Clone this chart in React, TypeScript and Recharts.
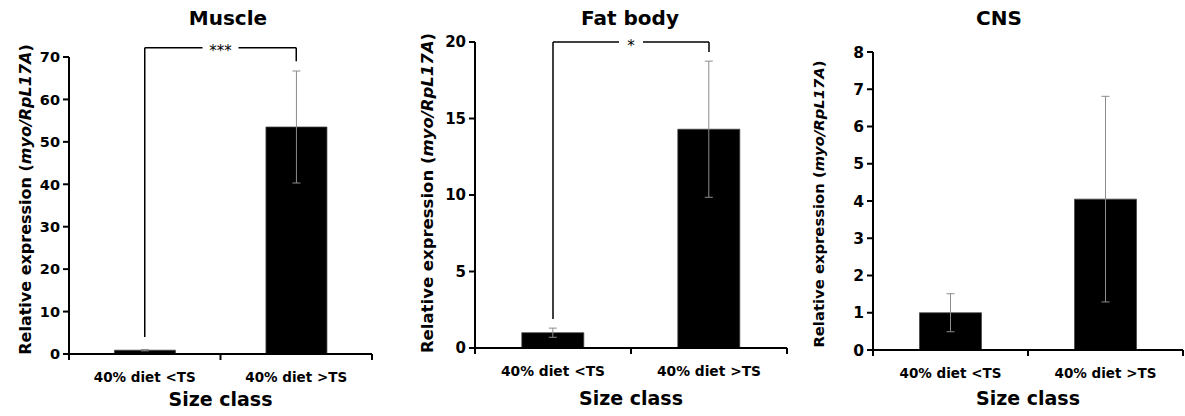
import React from 'react';
import { BarChart, Bar, XAxis, YAxis, ErrorBar, ReferenceLine } from 'recharts';

const categories = ['40% diet <TS', '40% diet >TS'];

const muscleMeans = [0.9, 53.5];
const muscleErrors = [0.15, 13.2];
const muscleTicks = [0, 10, 20, 30, 40, 50, 60, 70];

const fatBodyMeans = [1.0, 14.3];
const fatBodyErrors = [0.3, 4.45];
const fatBodyTicks = [0, 5, 10, 15, 20];

const cnsMeans = [1.0, 4.05];
const cnsErrors = [0.51, 2.76];
const cnsTicks = [0, 1, 2, 3, 4, 5, 6, 7, 8];

// significance brackets, in data units: height of the top line and of each leg's end
const muscleBracket = { text: '***', top: 72.2, leftEnd: 4, rightEnd: 69 };
const fatBodyBracket = { text: '*', top: 20, leftEnd: 1.9, rightEnd: 19.35 };

const FONT = '"DejaVu Sans", Lato, sans-serif';
const PANEL_W = 395;
const PANEL_H = 416;
const TICK_SIZE = 6;
const TICK_MARGIN = 12;

const CategoryTick = (props: any) => {
    const { x, y, payload, index, bandHalf, count, fontSize } = props;
    const axisY = y - TICK_SIZE - TICK_MARGIN;
    return (
        <g>
            <line x1={x - bandHalf} x2={x - bandHalf} y1={axisY} y2={axisY + TICK_SIZE} stroke="#000" strokeWidth={2} />
            {index === count - 1 && (
                <line x1={x + bandHalf} x2={x + bandHalf} y1={axisY} y2={axisY + TICK_SIZE} stroke="#000" strokeWidth={2} />
            )}
            <text x={x} y={y} dy="0.71em" textAnchor="middle" fill="#000" fontSize={fontSize} fontWeight={700} fontFamily={FONT}>
                {payload.value}
            </text>
        </g>
    );
};

const ValueTick = (props: any) => {
    const { x, y, payload, size } = props;
    return (
        <text x={x} y={y} dy="0.36em" textAnchor="end" fill="#000" fontSize={size} fontWeight={700} fontFamily={FONT}>
            {payload.value}
        </text>
    );
};

const YLabel = (props: any) => {
    const { viewBox, dx, shift, size } = props;
    const cx = viewBox.x + dx;
    const cy = viewBox.y + viewBox.height / 2 + shift;
    return (
        <text
            x={cx}
            y={cy}
            transform={`rotate(-90, ${cx}, ${cy})`}
            textAnchor="middle"
            dominantBaseline="central"
            fontSize={size}
            fontWeight={700}
            fontFamily={FONT}
            fill="#000"
        >
            Relative expression (<tspan fontStyle="italic">myo/RpL17A</tspan>)
        </text>
    );
};

const BracketLabel = (props: any) => {
    const { viewBox, text } = props;
    const cx = viewBox.x + viewBox.width / 2;
    const cy = viewBox.y;
    const w = text.length * 6 + 18;
    return (
        <g>
            <rect x={cx - w / 2} y={cy - 4} width={w} height={8} fill="#fff" />
            <text x={cx} y={cy + 8.5} textAnchor="middle" fontSize={15} fontFamily={FONT} fill="#000">
                {text}
            </text>
        </g>
    );
};

interface PanelProps {
    title: string;
    titleX: number;
    left: number;
    means: number[];
    errors: number[];
    ticks: number[];
    bracket?: { text: string; top: number; leftEnd: number; rightEnd: number };
    margin: { top: number; right: number; bottom: number; left: number };
    yWidth: number;
    xHeight: number;
    yLabelDx: number;
    yLabelShift: number;
    yLabelSize: number;
    tickFont: number;
    catFont: number;
}

function Panel(p: PanelProps) {
    const data = categories.map((name, i) => ({ name, mean: p.means[i], err: p.errors[i] }));
    const plotWidth = PANEL_W - p.margin.left - p.margin.right - p.yWidth;
    const bandHalf = plotWidth / (2 * categories.length);
    const axisStyle = { stroke: '#000', strokeWidth: 2 };
    const b = p.bracket;

    return (
        <div style={{ position: 'absolute', left: p.left, top: 0, width: PANEL_W, height: PANEL_H }}>
            <div
                style={{
                    position: 'absolute',
                    left: p.titleX - 100,
                    width: 200,
                    top: 4,
                    textAlign: 'center',
                    fontFamily: FONT,
                    fontWeight: 700,
                    fontSize: 20,
                    lineHeight: '28px',
                }}
            >
                {p.title}
            </div>
            <BarChart width={PANEL_W} height={PANEL_H} data={data} margin={p.margin} barCategoryGap="30%">
                <XAxis
                    dataKey="name"
                    interval={0}
                    height={p.xHeight}
                    tickLine={false}
                    tickSize={TICK_SIZE}
                    tickMargin={TICK_MARGIN}
                    axisLine={axisStyle}
                    tick={<CategoryTick bandHalf={bandHalf} count={categories.length} fontSize={p.catFont} />}
                    label={{
                        value: 'Size class',
                        position: 'insideBottom',
                        offset: 0,
                        fill: '#000',
                        fontSize: 19,
                        fontWeight: 700,
                        fontFamily: FONT,
                    }}
                />
                <YAxis
                    type="number"
                    domain={[0, p.ticks[p.ticks.length - 1]]}
                    ticks={p.ticks}
                    interval={0}
                    width={p.yWidth}
                    tickSize={6}
                    tickMargin={3}
                    axisLine={axisStyle}
                    tickLine={axisStyle}
                    tick={<ValueTick size={p.tickFont} />}
                    label={<YLabel dx={p.yLabelDx} shift={p.yLabelShift} size={p.yLabelSize} />}
                />
                <Bar dataKey="mean" fill="#000" stroke="#444" strokeWidth={0.75} isAnimationActive={false}>
                    <ErrorBar dataKey="err" width={4} stroke="#8c8c8c" strokeWidth={1} direction="y" />
                </Bar>
                {b && (
                    <ReferenceLine
                        segment={[{ x: categories[0], y: b.top }, { x: categories[1], y: b.top }]}
                        stroke="#000"
                        strokeWidth={1.5}
                        ifOverflow="visible"
                        label={(lp: any) => <BracketLabel {...lp} text={b.text} />}
                    />
                )}
                {b && (
                    <ReferenceLine
                        segment={[{ x: categories[0], y: b.top }, { x: categories[0], y: b.leftEnd }]}
                        stroke="#000"
                        strokeWidth={1.5}
                        ifOverflow="visible"
                    />
                )}
                {b && (
                    <ReferenceLine
                        segment={[{ x: categories[1], y: b.top }, { x: categories[1], y: b.rightEnd }]}
                        stroke="#000"
                        strokeWidth={1.5}
                        ifOverflow="visible"
                    />
                )}
            </BarChart>
        </div>
    );
}

export default function App() {
    return (
        <div style={{ position: 'absolute', left: 0, top: 0, width: 1185, height: 416, background: '#fff' }}>
            <Panel
                title="Muscle"
                titleX={228}
                left={0}
                means={muscleMeans}
                errors={muscleErrors}
                ticks={muscleTicks}
                bracket={muscleBracket}
                margin={{ top: 57, right: 23, bottom: 10, left: 0 }}
                yWidth={69}
                xHeight={52}
                yLabelDx={25}
                yLabelShift={-6}
                yLabelSize={16}
                tickFont={14.5}
                catFont={13.5}
            />
            <Panel
                title="Fat body"
                titleX={235}
                left={395}
                means={fatBodyMeans}
                errors={fatBodyErrors}
                ticks={fatBodyTicks}
                bracket={fatBodyBracket}
                margin={{ top: 42, right: 3, bottom: 11, left: 0 }}
                yWidth={80}
                xHeight={57}
                yLabelDx={32}
                yLabelShift={-2}
                yLabelSize={16.5}
                tickFont={15}
                catFont={13.8}
            />
            <Panel
                title="CNS"
                titleX={209}
                left={790}
                means={cnsMeans}
                errors={cnsErrors}
                ticks={cnsTicks}
                margin={{ top: 52, right: 2, bottom: 11, left: 0 }}
                yWidth={83}
                xHeight={55}
                yLabelDx={28}
                yLabelShift={3}
                yLabelSize={14.8}
                tickFont={15.5}
                catFont={13.5}
            />
        </div>
    );
}
